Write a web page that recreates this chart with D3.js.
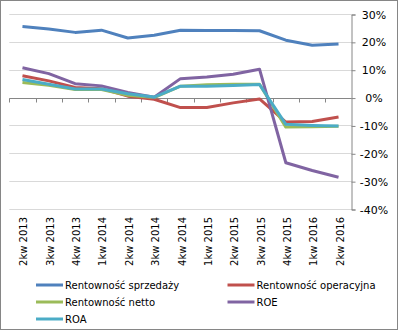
<!DOCTYPE html>
<html>
<head>
<meta charset="utf-8">
<title>Rentowność</title>
<script src="https://cdn.jsdelivr.net/npm/d3@7"></script>
<style>
body { margin: 0; background: #fff; }
text { font-family: "DejaVu Sans", sans-serif; font-size: 10px; fill: #000; }
.grid line { stroke: #d9d9d9; stroke-width: 1; }
</style>
</head>
<body>
<script>
var quarters = ["2kw 2013","3kw 2013","4kw 2013","1kw 2014","2kw 2014","3kw 2014","4kw 2014",
                "1kw 2015","2kw 2015","3kw 2015","4kw 2015","1kw 2016","2kw 2016"];
var sprzedazy  = [25.5, 24.6, 23.4, 24.2, 21.4, 22.4, 24.2, 24.1, 24.1, 24.0, 20.6, 18.8, 19.2];
var operacyjna = [7.8, 6.0, 3.6, 3.2, 0.5, -0.6, -3.6, -3.6, -1.9, -0.5, -8.8, -8.6, -7.0];
var netto      = [5.4, 4.4, 2.9, 2.9, 0.8, 0.0, 4.1, 4.6, 4.8, 4.8, -10.6, -10.5, -10.3];
var roe        = [10.7, 8.6, 5.0, 4.2, 1.8, 0.1, 6.8, 7.4, 8.4, 10.2, -23.4, -26.2, -28.6];
var roa        = [6.5, 4.8, 3.1, 3.1, 1.4, 0.2, 4.1, 4.1, 4.3, 4.7, -9.6, -10.0, -10.2];
var yTicks = [30, 20, 10, 0, -10, -20, -30, -40];

var series = [
  {name: "Rentowność sprzedaży", values: sprzedazy, color: "#4f81bd"},
  {name: "Rentowność operacyjna", values: operacyjna, color: "#c0504d"},
  {name: "Rentowność netto", values: netto, color: "#9bbb59"},
  {name: "ROE", values: roe, color: "#8064a2"},
  {name: "ROA", values: roa, color: "#4bacc6"}
];

var width = 398, height = 330;
var svg = d3.select("body").append("svg")
    .attr("width", width)
    .attr("height", height);

svg.append("rect")
    .attr("x", 0.5).attr("y", 0.5)
    .attr("width", width - 1).attr("height", height - 1)
    .attr("fill", "#fff")
    .attr("stroke", "#868686");

var x = d3.scaleBand().domain(quarters).range([9.3, 351.7]);
var y = d3.scaleLinear().domain([-40, 30]).range([209, 14]);

// gridlines
svg.append("g").attr("class", "grid")
  .selectAll("line")
  .data(yTicks.filter(function(d){ return d != 0; }))
  .enter().append("line")
    .attr("x1", 9.3).attr("x2", 351.7)
    .attr("y1", function(d){ return Math.round(y(d)) + 0.5; })
    .attr("y2", function(d){ return Math.round(y(d)) + 0.5; });

// right value axis
var axisY = d3.axisRight(y).tickValues(yTicks).tickSize(4)
    .tickFormat(function(d){ return d + "%"; });
var gy = svg.append("g")
    .attr("transform", "translate(351.5,0.5)")
    .call(axisY);
gy.select(".domain").attr("stroke", "#868686");
gy.selectAll(".tick line").attr("stroke", "#868686");
gy.selectAll("text")
    .style("font-size", "11px")
    .attr("text-anchor", "middle")
    .attr("x", 22.5);

// category axis at 0
var y0 = Math.round(y(0)) + 0.5;
svg.append("line")
    .attr("x1", 9.3).attr("x2", 351.7)
    .attr("y1", y0).attr("y2", y0)
    .attr("stroke", "#868686");
var bounds = quarters.map(function(q){ return x(q); });
svg.selectAll(".xtick")
  .data(bounds)
  .enter().append("line")
    .attr("class", "xtick")
    .attr("x1", function(d){ return Math.round(d) + 0.5; })
    .attr("x2", function(d){ return Math.round(d) + 0.5; })
    .attr("y1", y0).attr("y2", y0 + 4)
    .attr("stroke", "#868686");

// category labels, rotated
svg.selectAll(".xlabel")
  .data(quarters)
  .enter().append("text")
    .attr("class", "xlabel")
    .attr("text-anchor", "end")
    .attr("transform", function(d){
      return "translate(" + (x(d) + x.bandwidth() / 2 + 5) + ",217) rotate(-90)";
    })
    .text(function(d){ return d; });

// lines
var line = d3.line()
    .x(function(d, i){ return x(quarters[i]) + x.bandwidth() / 2; })
    .y(function(d){ return y(d); });

svg.selectAll(".series")
  .data(series)
  .enter().append("path")
    .attr("class", "series")
    .attr("fill", "none")
    .attr("stroke", function(d){ return d.color; })
    .attr("stroke-width", 3)
    .attr("stroke-linejoin", "round")
    .attr("d", function(d){ return line(d.values); });

// legend
var legend = svg.selectAll(".legend")
  .data(series)
  .enter().append("g")
    .attr("class", "legend")
    .attr("transform", function(d, i){
      return "translate(" + (i % 2 ? 227.5 : 36) + "," + (285 + Math.floor(i / 2) * 17) + ")";
    });
legend.append("line")
    .attr("x1", 0).attr("x2", 27)
    .attr("stroke", function(d){ return d.color; })
    .attr("stroke-width", 3);
legend.append("text")
    .attr("x", 29).attr("dy", "0.35em")
    .text(function(d){ return d.name; });
</script>
</body>
</html>
